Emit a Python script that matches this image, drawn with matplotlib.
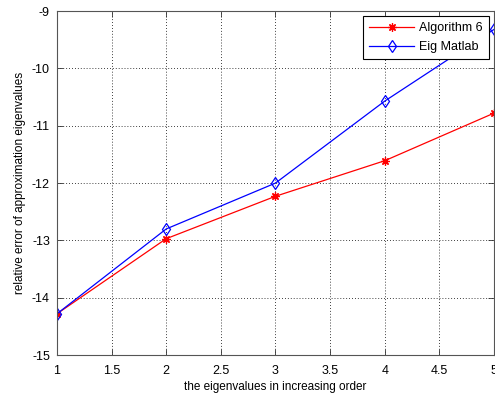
import matplotlib
matplotlib.use("Agg")
import matplotlib.pyplot as plt

plt.rcParams['font.family'] = ['Liberation Sans', 'DejaVu Sans']
plt.rcParams['axes.unicode_minus'] = False

order = [1, 2, 3, 4, 5]
alg6 = [-14.28, -12.97, -12.23, -11.61, -10.78]
eig_matlab = [-14.28, -12.80, -12.00, -10.57, -9.32]
xticks = [1, 1.5, 2, 2.5, 3, 3.5, 4, 4.5, 5]
yticks = [-15, -14, -13, -12, -11, -10, -9]

fig = plt.figure(figsize=(4.95, 3.95), dpi=100)
ax = fig.add_axes([0.115, 0.101, 0.883, 0.871])

ax.plot(order, alg6, color="red", lw=0.9, marker=(8, 2, 0), ms=6, mew=0.9,
        label="Algorithm 6")
ax.plot(order, eig_matlab, color="blue", lw=0.9, marker="d", ms=6, mew=0.9,
        mfc="none", label="Eig Matlab")

ax.set_xlim(1, 5)
ax.set_ylim(-15, -9)
ax.set_xticks(xticks)
ax.set_xticklabels([f"{t:g}" for t in xticks])
ax.set_yticks(yticks)
ax.grid(True, color="black", linestyle=(0, (1, 2.5)), linewidth=0.6)
ax.tick_params(direction="in", top=True, right=True, labelsize=9,
               length=4, width=0.6, color="#333333")
ax.tick_params(axis="x", pad=7)
ax.tick_params(axis="y", pad=5)
for s in ax.spines.values():
    s.set_color("#555555")
    s.set_linewidth(0.8)

ax.set_xlabel("the eigenvalues in increasing order", fontsize=8.5, labelpad=3)
ax.set_ylabel("relative error of approximation eigenvalues", fontsize=8.5,
              labelpad=4)

leg = ax.legend(loc="upper right", fontsize=9, fancybox=False,
                framealpha=1, edgecolor="black", handlelength=3.6,
                borderaxespad=0.4, borderpad=0.5, labelspacing=0.55,
                handletextpad=0.4)
leg.get_frame().set_linewidth(0.8)

fig.savefig("out.png", dpi=100)
